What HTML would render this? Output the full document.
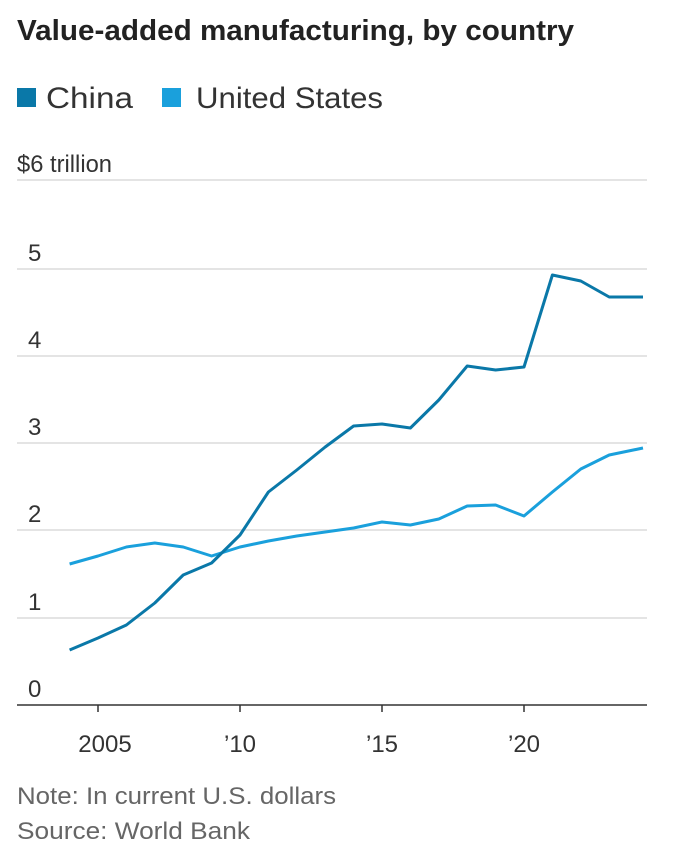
<!DOCTYPE html>
<html><head><style>
body{margin:0;background:#fff;width:692px;height:862px;overflow:hidden;font-family:"Liberation Sans",sans-serif;}
</style></head><body>
<svg width="692" height="862" xmlns="http://www.w3.org/2000/svg" font-family="Liberation Sans, sans-serif">
<text x="17" y="40" font-size="29" font-weight="bold" fill="#222" textLength="557" lengthAdjust="spacingAndGlyphs">Value-added manufacturing, by country</text>
<rect x="17" y="88" width="19" height="19" fill="#0a78a8"/>
<text x="46" y="108" font-size="30" fill="#333" textLength="87" lengthAdjust="spacingAndGlyphs">China</text>
<rect x="162" y="88" width="19" height="19" fill="#1aa0dc"/>
<text x="196" y="108" font-size="30" fill="#333" textLength="187" lengthAdjust="spacingAndGlyphs">United States</text>
<g stroke="#dcdcdc" stroke-width="1.5">
<line x1="17" x2="647" y1="180" y2="180"/>
<line x1="17" x2="647" y1="269" y2="269"/>
<line x1="17" x2="647" y1="356" y2="356"/>
<line x1="17" x2="647" y1="443" y2="443"/>
<line x1="17" x2="647" y1="530" y2="530"/>
<line x1="17" x2="647" y1="618" y2="618"/>
</g>
<line x1="17" x2="647" y1="705" y2="705" stroke="#333" stroke-width="1.5"/>
<g font-size="24" fill="#333">
<text x="17" y="172" textLength="95" lengthAdjust="spacingAndGlyphs">$6 trillion</text>
<text x="28" y="261">5</text>
<text x="28" y="348">4</text>
<text x="28" y="435">3</text>
<text x="28" y="522">2</text>
<text x="28" y="610">1</text>
<text x="28" y="697">0</text>
<text x="105" y="752" text-anchor="middle">2005</text>
<text x="240" y="752" text-anchor="middle">’10</text>
<text x="382" y="752" text-anchor="middle">’15</text>
<text x="524" y="752" text-anchor="middle">’20</text>
</g>
<g stroke="#333" stroke-width="1.5">
<line x1="98" x2="98" y1="705" y2="712"/>
<line x1="240" x2="240" y1="705" y2="712"/>
<line x1="382" x2="382" y1="705" y2="712"/>
<line x1="524" x2="524" y1="705" y2="712"/>
</g>
<polyline fill="none" stroke="#1aa0dc" stroke-width="3" stroke-linejoin="round" points="69.6,564 98,556 126.4,547 154.8,543 183.2,547 211.6,556 240,547 268.4,541 296.8,536 325.2,532 353.6,528 382,522 410.4,525 438.8,519 467.2,506 495.6,505 524,516 552.4,492 580.8,469 609.2,455 643,448"/>
<polyline fill="none" stroke="#0a78a8" stroke-width="3" stroke-linejoin="round" points="69.6,650 98,638 126.4,625 154.8,603 183.2,575 211.6,563 240,535 268.4,492 296.8,470 325.2,447 353.6,426 382,424 410.4,428 438.8,400 467.2,366 495.6,370 524,367 552.4,275 580.8,281 609.2,297 643,297"/>
<text x="17" y="804" font-size="24" fill="#666" textLength="319" lengthAdjust="spacingAndGlyphs">Note: In current U.S. dollars</text>
<text x="17" y="839" font-size="24" fill="#666" textLength="233" lengthAdjust="spacingAndGlyphs">Source: World Bank</text>
</svg>
</body></html>
